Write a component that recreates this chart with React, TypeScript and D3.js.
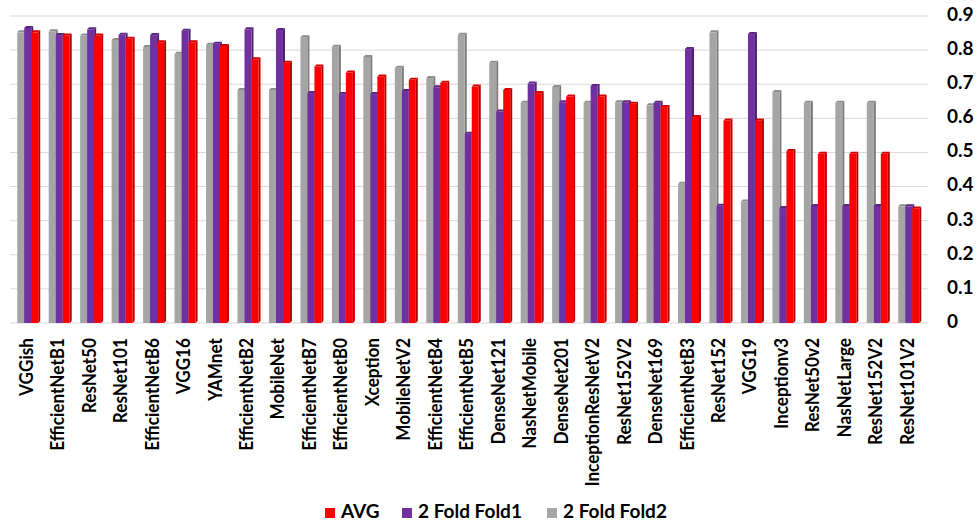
import React from "react";
import * as d3 from "d3";

const categories = [
  "VGGish", "EfficientNetB1", "ResNet50", "ResNet101", "EfficientNetB6", "VGG16", "YAMnet",
  "EfficientNetB2", "MobileNet", "EfficientNetB7", "EfficientNetB0", "Xception", "MobileNetV2",
  "EfficientNetB4", "EfficientNetB5", "DenseNet121", "NasNetMobile", "DenseNet201",
  "InceptionResNetV2", "ResNet152V2", "DenseNet169", "EfficientNetB3", "ResNet152", "VGG19",
  "Inceptionv3", "ResNet50v2", "NasNetLarge", "ResNet152V2 ", "ResNet101V2",
];

const fold2 = [
  0.852, 0.855, 0.843, 0.830, 0.809, 0.789, 0.816, 0.683, 0.683, 0.838, 0.810, 0.780, 0.748,
  0.718, 0.845, 0.763, 0.646, 0.692, 0.646, 0.647, 0.638, 0.408, 0.852, 0.356, 0.677, 0.646,
  0.646, 0.646, 0.342,
];
const fold1 = [
  0.865, 0.844, 0.861, 0.845, 0.844, 0.857, 0.819, 0.861, 0.859, 0.674, 0.671, 0.671, 0.680,
  0.691, 0.555, 0.620, 0.702, 0.647, 0.695, 0.647, 0.646, 0.803, 0.344, 0.847, 0.337, 0.343,
  0.343, 0.343, 0.342,
];
const avg = [
  0.852, 0.843, 0.843, 0.833, 0.823, 0.823, 0.812, 0.773, 0.763, 0.752, 0.734, 0.723, 0.713,
  0.704, 0.693, 0.683, 0.674, 0.664, 0.664, 0.643, 0.633, 0.604, 0.594, 0.594, 0.504, 0.496,
  0.496, 0.496, 0.336,
];
const yTicks = [0, 0.1, 0.2, 0.3, 0.4, 0.5, 0.6, 0.7, 0.8, 0.9];

const seriesList = [
  { name: "2 Fold Fold2", values: fold2, front: "#a5a5a5", side: "#7a7a7a", top: "#8c8c8c" },
  { name: "2 Fold Fold1", values: fold1, front: "#7030a0", side: "#4b1f6e", top: "#5a2682" },
  { name: "AVG", values: avg, front: "#ff0000", side: "#b00000", top: "#d40000" },
];
const legendOrder = ["AVG", "2 Fold Fold1", "2 Fold Fold2"];

const W = 976;
const H = 521;
const FONT = "Lato, 'Open Sans', 'DejaVu Sans', sans-serif";

export default function App() {
  const x = d3.scaleBand<string>().domain(categories).range([12, 924.5]).paddingInner(0).paddingOuter(0);
  const y = d3.scaleLinear().domain([0, 0.9]).range([323, 16]);
  const sub = d3
    .scaleBand<string>()
    .domain(seriesList.map((s) => s.name))
    .range([0, 21]);
  const barW = sub.bandwidth();
  const dx = 2;
  const dy = 2;

  const legendX: Record<string, number> = { AVG: 325, "2 Fold Fold1": 402, "2 Fold Fold2": 547 };

  return (
    <svg
      width={W}
      height={H}
      style={{ position: "absolute", left: 0, top: 0, background: "#fff" }}
      fontFamily={FONT}
    >
      {yTicks.map((t) => (
        <g key={t}>
          <line x1={10} x2={928} y1={y(t)} y2={y(t)} stroke="#d9d9d9" strokeWidth={1} />
          <text
            x={947}
            y={y(t)}
            dominantBaseline="middle"
            fontSize={19}
            fontWeight="bold"
            fill="#000"
          >
            {t === 0 ? "0" : d3.format(".1f")(t)}
          </text>
        </g>
      ))}
      {categories.map((c, i) => {
        const gx = (x(c) as number) + (x.bandwidth() - 21) / 2;
        return (
          <g key={c + i}>
            {seriesList.map((s) => {
              const bx = gx + (sub(s.name) as number);
              const by = y(s.values[i]);
              const b0 = y(0);
              return (
                <g key={s.name}>
                  <polygon
                    points={`${bx + barW},${by} ${bx + barW + dx},${by - dy} ${bx + barW + dx},${b0 - dy} ${bx + barW},${b0}`}
                    fill={s.side}
                  />
                  <polygon
                    points={`${bx},${by} ${bx + dx},${by - dy} ${bx + barW + dx},${by - dy} ${bx + barW},${by}`}
                    fill={s.top}
                  />
                  <rect x={bx} y={by} width={barW} height={b0 - by} fill={s.front} />
                </g>
              );
            })}
            <text
              transform={`translate(${(x(c) as number) + x.bandwidth() / 2},338) rotate(-90) scale(0.88,1)`}
              textAnchor="end"
              dominantBaseline="middle"
              fontSize={19.5}
              fontWeight="bold"
              fill="#000"
            >
              {c.trim()}
            </text>
          </g>
        );
      })}
      {legendOrder.map((n) => {
        const s = seriesList.find((q) => q.name === n)!;
        const lx = legendX[n];
        return (
          <g key={n}>
            <rect x={lx} y={508} width={10} height={10} fill={s.front} />
            <text x={lx + 16} y={513} dominantBaseline="middle" fontSize={19} fontWeight="bold" fill="#000">
              {n}
            </text>
          </g>
        );
      })}
    </svg>
  );
}
